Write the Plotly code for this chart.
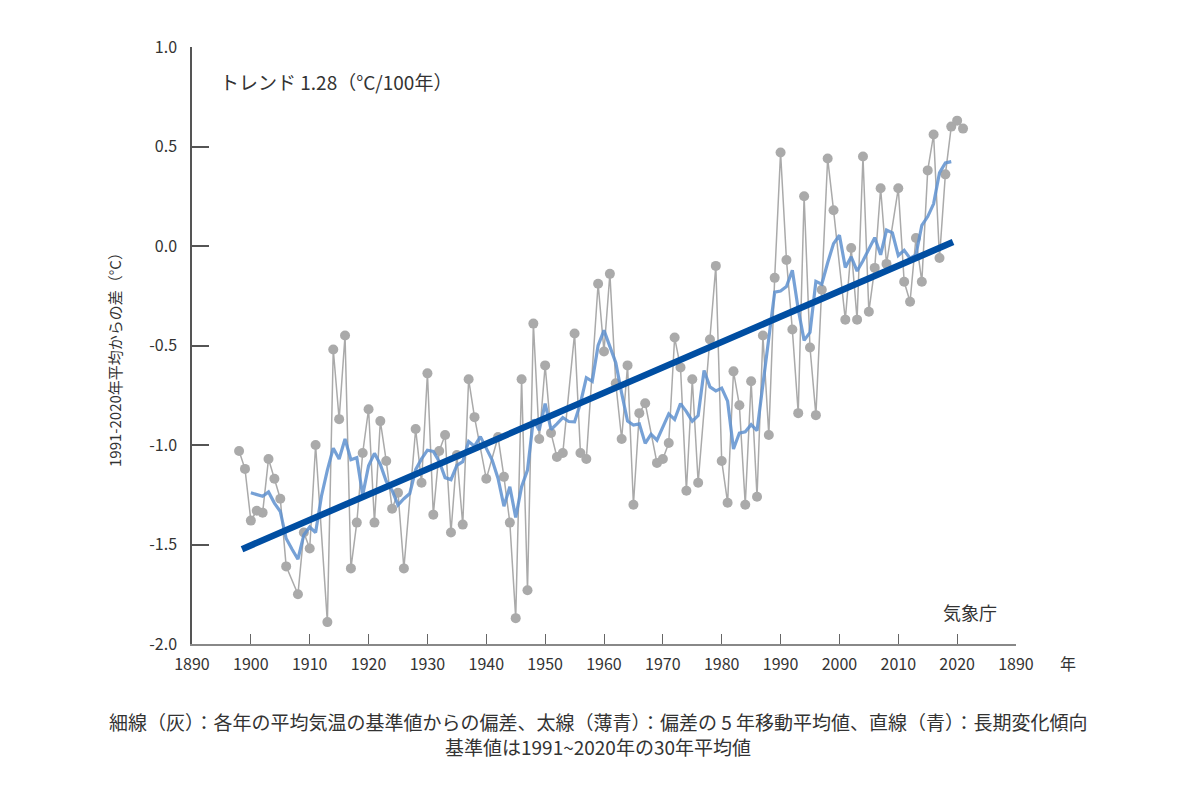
import numpy as np
import pandas as pd
import plotly.graph_objects as go

# ---- data (annual anomaly, degC, 1898-2021) ----
first_year, last_year = 1898, 2021
anomaly = [
    -1.03, -1.12,                                                            # 1898-1899
    -1.38, -1.33, -1.34, -1.07, -1.17, -1.27, -1.61, -1.55, -1.75, -1.44,    # 1900s
    -1.52, -1.00, -1.35, -1.89, -0.52, -0.87, -0.45, -1.62, -1.39, -1.04,    # 1910s
    -0.82, -1.39, -0.88, -1.08, -1.32, -1.24, -1.62, -1.25, -0.92, -1.19,    # 1920s
    -0.64, -1.35, -1.03, -0.95, -1.44, -1.05, -1.40, -0.67, -0.86, -0.93,    # 1930s
    -1.17, -1.16, -0.96, -1.16, -1.39, -1.87, -0.67, -1.73, -0.39, -0.97,    # 1940s
    -0.60, -0.94, -1.06, -1.04, -0.83, -0.44, -1.04, -1.07, -0.57, -0.19,    # 1950s
    -0.53, -0.14, -0.69, -0.97, -0.60, -1.30, -0.84, -0.79, -0.94, -1.09,    # 1960s
    -1.07, -0.99, -0.46, -0.61, -1.23, -0.67, -1.19, -0.70, -0.47, -0.10,    # 1970s
    -1.08, -1.29, -0.63, -0.80, -1.30, -0.68, -1.26, -0.45, -0.95, -0.16,    # 1980s
     0.47, -0.07, -0.42, -0.84,  0.25, -0.51, -0.85, -0.22,  0.44,  0.18,    # 1990s
     0.03, -0.37, -0.01, -0.37,  0.45, -0.33, -0.11,  0.29, -0.09,  0.02,    # 2000s
     0.29, -0.18, -0.28,  0.04, -0.18,  0.38,  0.56, -0.06,  0.36,  0.60,    # 2010s
     0.63,  0.59,                                                            # 2020s
]
years = list(range(first_year, last_year + 1))
assert len(years) == len(anomaly)

# years whose grey point is not drawn in the reference (they still count in the moving average)
no_marker_years = [1907, 1912, 1927, 1939, 1941, 1954, 1958, 1968, 1977, 2000, 2009]

trend_span = [1898.5, 2019.3]   # extent of the drawn trend line (years)

x_tickvals = list(range(1890, 2031, 10))
x_ticktext = ["1890", "1900", "1910", "1920", "1930", "1940", "1950", "1960", "1970",
              "1980", "1990", "2000", "2010", "2020", "1890"]
y_tickvals = [-2.0, -1.5, -1.0, -0.5, 0.0, 0.5, 1.0]
y_ticktext = ["-2.0", "-1.5", "-1.0", "-0.5", "0.0", "0.5", "1.0"]

# grey series (points drawn in the reference)
gx = [y for y in years if y not in no_marker_years]
gy = [v for y, v in zip(years, anomaly) if y not in no_marker_years]

# 5-year centred moving average
s = pd.Series(anomaly, index=years)
ma = s.rolling(5, center=True).mean().dropna()

# long-term linear trend (least squares)
coef = np.polyfit(years, anomaly, 1)
trend_vals = [float(np.polyval(coef, t)) for t in trend_span]

FONT = "Noto Sans CJK JP"
TXT = "#333333"

fig = go.Figure()
fig.add_trace(go.Scatter(
    x=gx, y=gy, mode="lines+markers",
    line=dict(color="#aaaaaa", width=1.5),
    marker=dict(color="#aaaaaa", size=10),
    hoverinfo="skip", showlegend=False))
fig.add_trace(go.Scatter(
    x=list(ma.index), y=list(ma.values), mode="lines",
    line=dict(color="rgba(94,145,207,0.85)", width=3.2),
    hoverinfo="skip", showlegend=False))
fig.add_trace(go.Scatter(
    x=trend_span, y=trend_vals, mode="lines",
    line=dict(color="#004ea2", width=6.5),
    hoverinfo="skip", showlegend=False))

fig.update_layout(
    width=1192, height=797,
    margin=dict(l=184, r=184, t=39, b=161),
    paper_bgcolor="white", plot_bgcolor="white",
    font=dict(family=FONT, color=TXT, size=16),
    xaxis=dict(range=[1890, 2030], tickvals=x_tickvals, ticktext=x_ticktext,
               ticks="inside", ticklen=10, tickcolor="#666", tickwidth=1.2,
               showline=True, linecolor="#888", linewidth=1.5,
               showgrid=False, zeroline=False, ticklabelstandoff=5,
               tickfont=dict(size=16, color=TXT)),
    yaxis=dict(range=[-2.0, 1.0], tickvals=y_tickvals, ticktext=y_ticktext,
               ticks="inside", ticklen=17, tickcolor="#555", tickwidth=1.5,
               showline=True, linecolor="#555", linewidth=1.5,
               showgrid=False, zeroline=False, ticklabelstandoff=10,
               tickfont=dict(size=16, color=TXT)),
)

ann = [
    dict(text="トレンド 1.28（°C/100年）", x=1894.4, y=0.825, xref="x", yref="y",
         xanchor="left", yanchor="middle", font=dict(size=19)),
    dict(text="気象庁", x=2027.1, y=-1.84, xref="x", yref="y",
         xanchor="right", yanchor="middle", font=dict(size=18)),
    dict(text="年", x=(1068 - 192) / 824, y=(644 - 663) / 597, xref="paper", yref="paper",
         xanchor="center", yanchor="middle", font=dict(size=16)),
    dict(text="1991-2020年平均からの差（°C）", x=(114 - 192) / 824, y=(644 - 356) / 597,
         xref="paper", yref="paper", textangle=-90, xanchor="center", yanchor="middle",
         font=dict(size=15)),
    dict(text="細線（灰）：各年の平均気温の基準値からの偏差、太線（薄青）：偏差の 5 年移動平均値、直線（青）：長期変化傾向",
         x=(598 - 192) / 824, y=(644 - 722) / 597, xref="paper", yref="paper",
         xanchor="center", yanchor="middle", font=dict(size=19)),
    dict(text="基準値は1991~2020年の30年平均値", x=(598 - 192) / 824, y=(644 - 746) / 597,
         xref="paper", yref="paper", xanchor="center", yanchor="middle", font=dict(size=19)),
]
for a in ann:
    a["showarrow"] = False
    fig.add_annotation(**a)

fig.write_html("out.html")
